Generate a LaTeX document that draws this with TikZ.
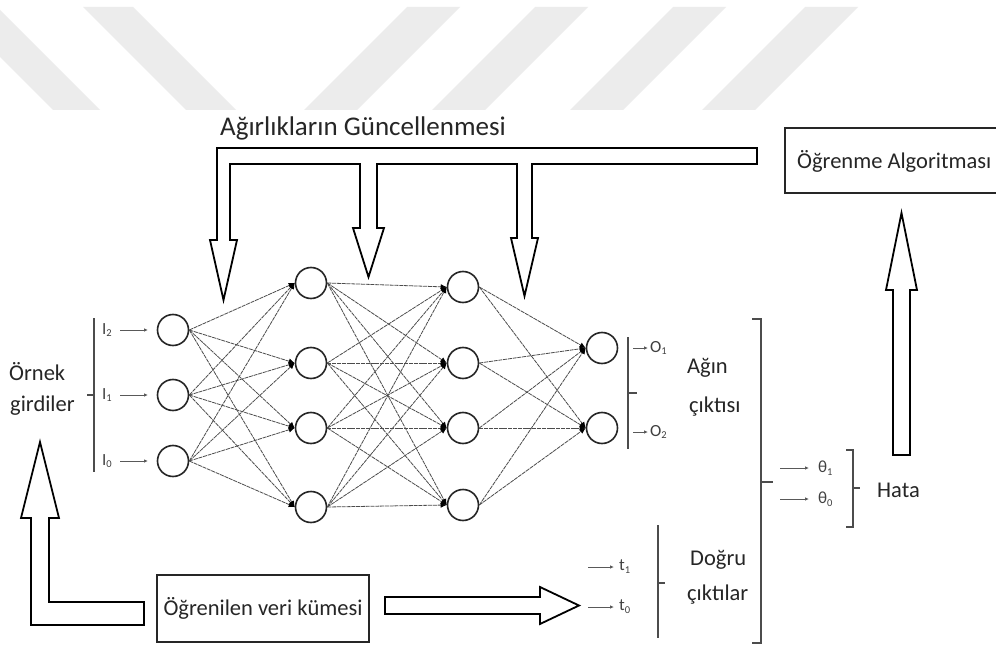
\documentclass[tikz,border=0pt]{standalone}
\usepackage{fontspec}
\setmainfont{Carlito}
\usetikzlibrary{arrows.meta}
\definecolor{wm}{RGB}{236,236,236}
\newcommand\sbs[1]{\raisebox{-0.35ex}{\fontsize{10.5}{11}\selectfont #1}}
\begin{document}
\begin{tikzpicture}[x=1pt,y=-1pt,
  neuron/.style={circle,draw=black!85,line width=1.6pt,minimum size=31pt,inner sep=0pt,fill=white},
  wedge/.style={draw=black!70,line width=0.8pt,dash pattern=on 4pt off 0.8pt,-{Latex[length=6pt,width=5.5pt,black]}},
  lbl/.style={font=\fontsize{22.5}{26}\selectfont,text=black!85,inner sep=0pt,anchor=west},
  small/.style={font=\fontsize{17}{19}\selectfont,text=black!75,inner sep=0pt,anchor=west},
  sarrow/.style={draw=black!65,line width=0.8pt,-{Latex[length=4pt,width=3.5pt]}},
  brk/.style={draw=black!70,line width=1.5pt},
  bigarrow/.style={draw=black,line width=1.8pt,fill=white,line join=miter},
  box/.style={draw=black!85,line width=1.8pt,fill=white,inner sep=0pt}
]
\useasboundingbox[fill=white] (0,0) rectangle (996,650);

% watermark bands
\fill[wm] (-50,7) -- (-3,7) -- (100,110) -- (53,110) -- cycle;
\fill[wm] (83,7) -- (133,7) -- (236,110) -- (186,110) -- cycle;
\fill[wm] (407,7) -- (460,7) -- (357,110) -- (304,110) -- cycle;
\fill[wm] (535,7) -- (588,7) -- (485,110) -- (432,110) -- cycle;
\fill[wm] (673,7) -- (726,7) -- (623,110) -- (570,110) -- cycle;
\fill[wm] (805,7) -- (858,7) -- (755,110) -- (702,110) -- cycle;

% title
\node[lbl,font=\fontsize{27}{32}\selectfont] (title) at (220,128) {Ağırlıkların Güncellenmesi};

% weight update pipe with three down arrows
\draw[bigarrow] (757,148) -- (217,148) -- (217,240) -- (210,240) -- (223.5,300) -- (237,240) -- (230,240)
  -- (230,164) -- (360,164) -- (360,228) -- (353,228) -- (368.5,277) -- (384,228) -- (377,228)
  -- (377,164) -- (517,164) -- (517,238) -- (511,238) -- (524.5,296) -- (538,238) -- (532,238)
  -- (532,164) -- (757,164) -- cycle;

% learning algorithm box
\node[box,minimum width=215pt,minimum height=65pt] (alg) at (892.5,160.5) {};
\node[lbl] (algt) at (797,161) {Öğrenme Algoritması};

% error up arrow
\draw[bigarrow] (893,455) -- (893,290) -- (886,290) -- (901.5,213) -- (917,290) -- (910,290) -- (910,455) -- cycle;

% neurons
\node[neuron] (i2) at (173,330) {};
\node[neuron] (i1) at (173,395) {};
\node[neuron] (i0) at (173,461) {};
\node[neuron] (ha) at (311,283) {};
\node[neuron] (hb) at (311,363) {};
\node[neuron] (hc) at (311,428) {};
\node[neuron] (hd) at (311,507) {};
\node[neuron] (ga) at (463,287) {};
\node[neuron] (gb) at (463,363) {};
\node[neuron] (gc) at (463,428) {};
\node[neuron] (gd) at (463,505) {};
\node[neuron] (o1) at (602,348) {};
\node[neuron] (o2) at (602,428) {};

\foreach \s in {i0,i1,i2} \foreach \t in {ha,hb,hc,hd} \draw[wedge] (\s.east) -- (\t.west);
\foreach \s in {ha,hb,hc,hd} \foreach \t in {ga,gb,gc,gd} \draw[wedge] (\s.east) -- (\t.west);
\foreach \s in {ga,gb,gc,gd} \foreach \t in {o1,o2} \draw[wedge] (\s.east) -- (\t.west);

% input labels
\foreach \n/\k/\y in {i2/2/330, i1/1/395, i0/0/461} {
  \node[small] (l\n) at (102,\y) {I\sbs{\k}};
  \coordinate (a\n) at (120,\y);
  \coordinate (b\n) at (148,\y);
  \draw[sarrow] (a\n) -- (b\n);
}
\draw[brk] (94,318) -- (94,472);
\draw[brk] (94,395) -- (87,395);
\node[lbl] (ornek) at (9,372) {Örnek};
\node[lbl] (girdi) at (10,406) {girdiler};

% output labels
\foreach \n/\k/\y in {o1/1/348, o2/2/432} {
  \coordinate (a\n) at (633,\y);
  \coordinate (b\n) at (648,\y);
  \draw[sarrow] (a\n) -- (b\n);
  \node[small] (l\n) at (650,\y) {O\sbs{\k}};
}
\draw[brk] (628,337) -- (628,449);
\draw[brk] (628,393) -- (637,393);
\node[lbl] (agin) at (687,368) {Ağın};
\node[lbl] (cikt) at (689,407) {çıktısı};

% big bracket
\draw[brk] (752,319) -- (761,319) -- (761,643) -- (752,643);
\draw[brk] (761,482) -- (773,482);

% theta
\foreach \n/\k/\y in {t1/1/468, t0/0/499} {
  \coordinate (a\n) at (780,\y);
  \coordinate (b\n) at (809,\y);
  \draw[sarrow] (a\n) -- (b\n);
  \node[small] (l\n) at (818,\y) {θ\sbs{\k}};
}
\draw[brk] (846,450) -- (853,450) -- (853,527) -- (846,527);
\draw[brk] (853,488) -- (860,488);
\node[lbl] (hata) at (877,490) {Hata};

% bottom-left L arrow
\draw[bigarrow] (144,602) -- (49,602) -- (49,518) -- (59,518) -- (40,442) -- (21,518) -- (31,518) -- (31,625) -- (144,625) -- cycle;

% data set box
\node[box,minimum width=212pt,minimum height=67pt,font=\fontsize{22.5}{26}\selectfont,text=black!85] (data) at (263,608.5) {Öğrenilen veri kümesi};

% right arrow
\draw[bigarrow] (385,597) -- (540,597) -- (540,587) -- (579,605.5) -- (540,624) -- (540,614) -- (385,614) -- cycle;

% targets
\foreach \n/\k/\y in {s1/1/567, s0/0/607} {
  \coordinate (a\n) at (588,\y);
  \coordinate (b\n) at (614,\y);
  \draw[sarrow] (a\n) -- (b\n);
  \node[small] (l\n) at (619,\y) {t\sbs{\k}};
}
\draw[brk] (658,525) -- (658,638);
\draw[brk] (658,583) -- (665,583);
\node[lbl] (dogru) at (690,560) {Doğru};
\node[lbl] (cikt2) at (687,595) {çıktılar};
\end{tikzpicture}
\end{document}
